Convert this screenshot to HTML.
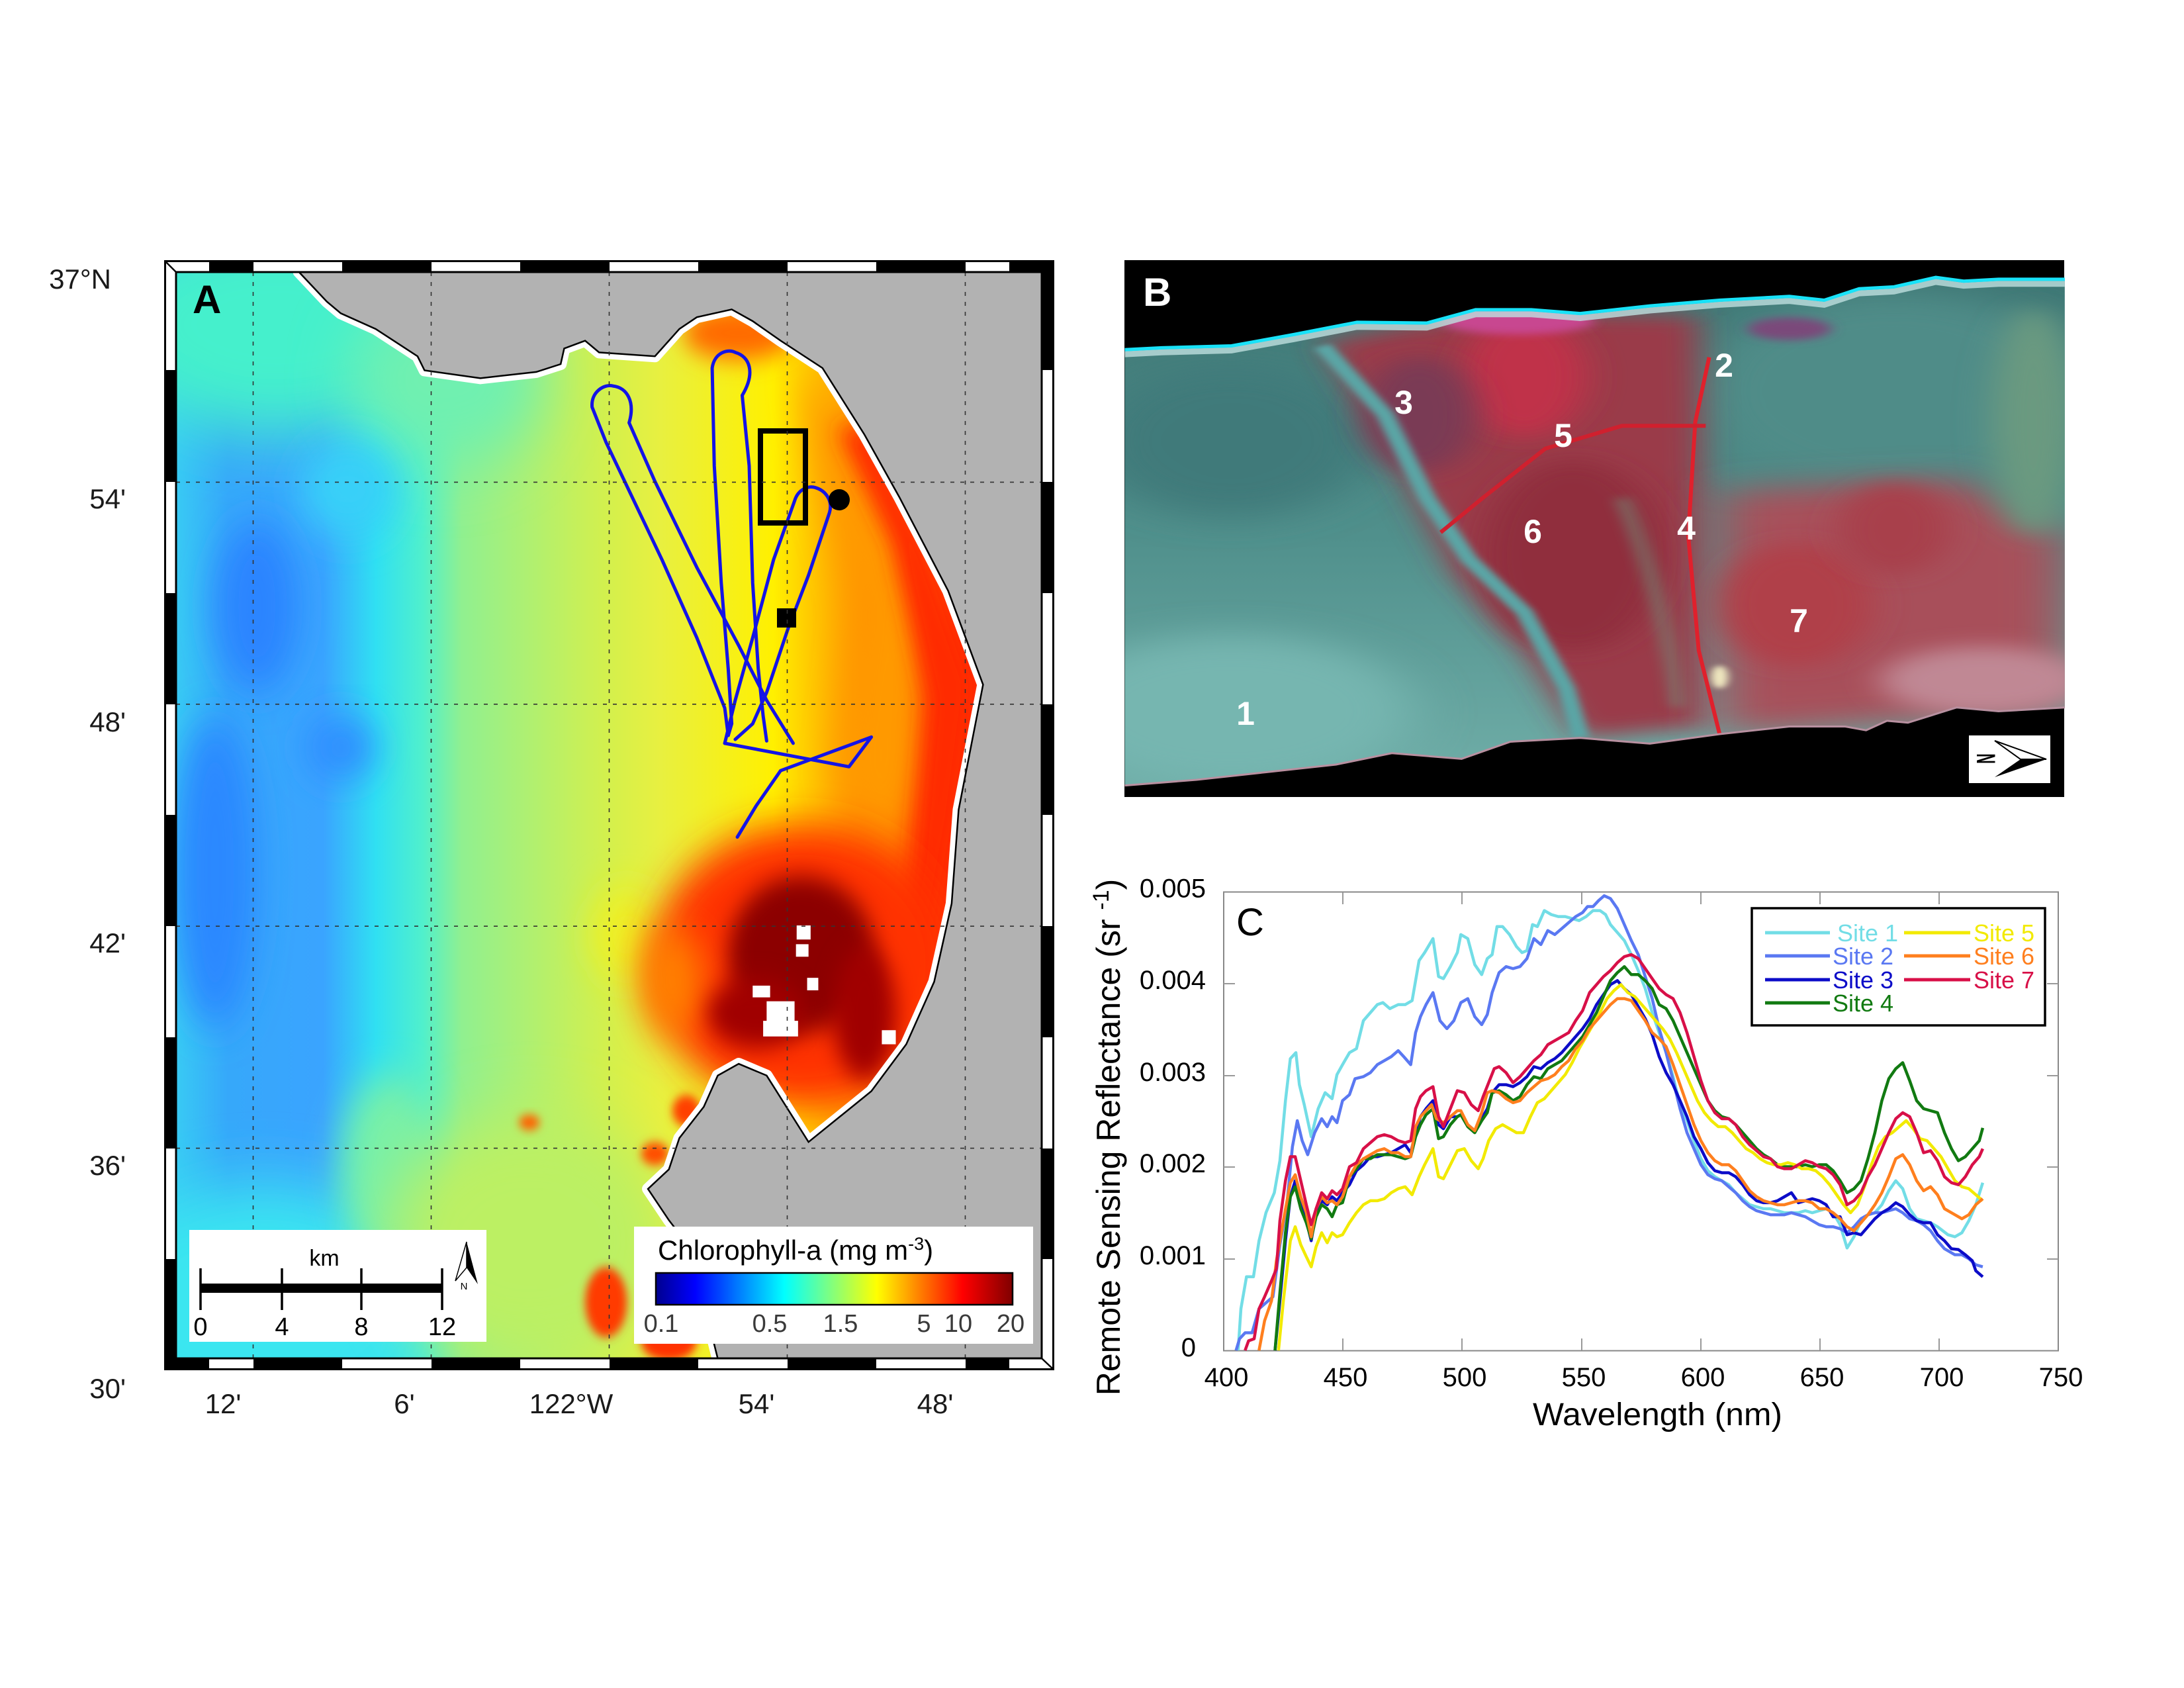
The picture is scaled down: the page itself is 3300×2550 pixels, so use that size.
<!DOCTYPE html>
<html><head><meta charset="utf-8"><style>
html,body{margin:0;padding:0;background:#fff;}
svg{display:block;}
text{font-family:"Liberation Sans",Arial,sans-serif;}
</style></head><body>
<svg width="3300" height="2550" viewBox="0 0 3300 2550" xmlns="http://www.w3.org/2000/svg">
<defs>
<filter id="b6" x="-50%" y="-50%" width="200%" height="200%"><feGaussianBlur stdDeviation="6"/></filter>
<filter id="b10" x="-50%" y="-50%" width="200%" height="200%"><feGaussianBlur stdDeviation="10"/></filter>
<filter id="b15" x="-50%" y="-50%" width="200%" height="200%"><feGaussianBlur stdDeviation="15"/></filter>
<filter id="b25" x="-50%" y="-50%" width="200%" height="200%"><feGaussianBlur stdDeviation="25"/></filter>
<filter id="b40" x="-50%" y="-50%" width="200%" height="200%"><feGaussianBlur stdDeviation="40"/></filter>
<linearGradient id="mapg" gradientUnits="userSpaceOnUse" x1="254" y1="0" x2="1494" y2="0">
<stop offset="0" stop-color="#38caf4"/>
<stop offset="0.06" stop-color="#36a8fa"/>
<stop offset="0.17" stop-color="#3aa4ff"/>
<stop offset="0.231" stop-color="#30e0f2"/>
<stop offset="0.285" stop-color="#50f0cc"/>
<stop offset="0.33" stop-color="#90f090"/>
<stop offset="0.45" stop-color="#c0f060"/>
<stop offset="0.5" stop-color="#d4f04c"/>
<stop offset="0.56" stop-color="#e8f040"/>
<stop offset="0.69" stop-color="#fff000"/>
<stop offset="0.76" stop-color="#ffb000"/>
<stop offset="0.83" stop-color="#ff7000"/>
<stop offset="0.89" stop-color="#ff3000"/>
<stop offset="1" stop-color="#ff2000"/>
</linearGradient>
<linearGradient id="jet" x1="0" y1="0" x2="1" y2="0">
<stop offset="0" stop-color="#00008f"/>
<stop offset="0.11" stop-color="#0000ff"/>
<stop offset="0.36" stop-color="#00ffff"/>
<stop offset="0.62" stop-color="#ffff00"/>
<stop offset="0.86" stop-color="#ff0000"/>
<stop offset="1" stop-color="#800000"/>
</linearGradient>
<linearGradient id="bvert" x1="0" y1="0" x2="0" y2="1">
<stop offset="0" stop-color="#3e7674"/>
<stop offset="0.5" stop-color="#50908c"/>
<stop offset="1" stop-color="#72b0aa"/>
</linearGradient>
<clipPath id="mapclip"><rect x="254" y="52" width="1240" height="1390"/></clipPath>
<clipPath id="bclip"><path d="M47,310 L100,305 L200,300 L290,270 L380,238 L480,240 L550,205 L630,205 L700,215 L800,195 L900,180 L1000,170 L1050,180 L1100,150 L1150,145 L1210,120 L1250,130 L1300,125 L1395,125 L1395,1250 L1300,1260 L1240,1250 L1170,1290 L1140,1285 L1110,1310 L1080,1300 L1000,1300 L900,1320 L800,1345 L700,1330 L600,1340 L530,1385 L430,1370 L350,1400 L250,1420 L150,1440 L47,1455 Z"/></clipPath>
</defs>

<!-- ================= PANEL A ================= -->
<g transform="translate(248,393) scale(1.0549,1.181) translate(-237,-37)">
 <g clip-path="url(#mapclip)">
  <rect x="250" y="40" width="1260" height="1420" fill="url(#mapg)"/>
  <ellipse cx="400" cy="120" rx="240" ry="140" fill="#44f0cc" filter="url(#b40)"/>
  <ellipse cx="640" cy="190" rx="140" ry="110" fill="#70f0b0" filter="url(#b40)"/>
  <ellipse cx="500" cy="330" rx="70" ry="60" fill="#38d0f8" filter="url(#b25)"/>
  <ellipse cx="380" cy="1380" rx="240" ry="160" fill="#3ae6f0" filter="url(#b40)"/>
  <ellipse cx="370" cy="480" rx="60" ry="110" fill="#2c84ff" filter="url(#b25)"/>
  <ellipse cx="310" cy="820" rx="60" ry="200" fill="#2c88ff" filter="url(#b25)"/>
  <ellipse cx="490" cy="660" rx="50" ry="40" fill="#2e8cff" filter="url(#b25)"/>
  <ellipse cx="560" cy="1200" rx="70" ry="120" fill="#78f0a8" filter="url(#b25)"/>
  <ellipse cx="760" cy="1290" rx="200" ry="160" fill="#bcf064" filter="url(#b40)"/>
  <ellipse cx="900" cy="900" rx="50" ry="60" fill="#f0f020" filter="url(#b25)"/>
  <path d="M1150,170 L1260,300 L1330,480 L1320,700 L1270,820 L1200,700 L1230,480 L1170,300 Z" fill="#ff9a00" filter="url(#b25)"/>
  <path d="M1200,250 L1250,250 L1330,400 L1400,580 L1375,750 L1345,900 L1300,1010 L1270,1000 L1310,800 L1330,600 L1280,400 Z" fill="#ff2a00" filter="url(#b15)"/>
  <ellipse cx="1060" cy="130" rx="80" ry="35" fill="#ff6a00" filter="url(#b15)"/>
  <ellipse cx="1150" cy="940" rx="215" ry="180" fill="#ff3000" filter="url(#b25)"/>
  <ellipse cx="965" cy="960" rx="45" ry="70" fill="#ff8000" filter="url(#b25)"/>
  <ellipse cx="1150" cy="925" rx="105" ry="100" fill="#8c0000" filter="url(#b15)"/>
  <ellipse cx="1240" cy="1000" rx="45" ry="85" fill="#a00000" filter="url(#b15)"/>
  <ellipse cx="1085" cy="1000" rx="70" ry="45" fill="#a00000" filter="url(#b15)"/>
  <ellipse cx="870" cy="1370" rx="30" ry="45" fill="#ff3a00" filter="url(#b6)"/>
  <ellipse cx="960" cy="1420" rx="40" ry="25" fill="#ff3000" filter="url(#b6)"/>
  <ellipse cx="985" cy="1125" rx="20" ry="20" fill="#ff4000" filter="url(#b6)"/>
  <ellipse cx="940" cy="1180" rx="20" ry="15" fill="#ff5000" filter="url(#b6)"/>
  <ellipse cx="760" cy="1140" rx="15" ry="10" fill="#ff6000" filter="url(#b6)"/>
  <g fill="#fff">
   <rect x="1143" y="888" width="20" height="18"/>
   <rect x="1142" y="912" width="18" height="16"/>
   <rect x="1158" y="955" width="16" height="16"/>
   <rect x="1080" y="965" width="25" height="15"/>
   <rect x="1100" y="985" width="40" height="30"/>
   <rect x="1095" y="1010" width="50" height="20"/>
   <rect x="1265" y="1022" width="20" height="18"/>
  </g>
  <!-- land -->
  <path d="M430,52 L470,90 L490,105 L540,125 L600,160 L610,178 L690,188 L770,180 L805,170 L810,150 L840,140 L860,155 L940,160 L975,125 L1000,110 L1050,100 L1080,115 L1120,140 L1180,175 L1240,260 L1290,340 L1360,460 L1410,580 L1375,740 L1365,860 L1340,960 L1300,1040 L1250,1100 L1160,1165 L1100,1080 L1060,1065 L1030,1080 L1010,1120 L975,1160 L960,1200 L930,1225 L960,1265 L990,1300 L1030,1442 L1520,1460 L1520,30 L430,30 Z" fill="#fff" stroke="#fff" stroke-width="18" stroke-linejoin="round" vector-effect="non-scaling-stroke"/>
  <path d="M430,52 L470,90 L490,105 L540,125 L600,160 L610,178 L690,188 L770,180 L805,170 L810,150 L840,140 L860,155 L940,160 L975,125 L1000,110 L1050,100 L1080,115 L1120,140 L1180,175 L1240,260 L1290,340 L1360,460 L1410,580 L1375,740 L1365,860 L1340,960 L1300,1040 L1250,1100 L1160,1165 L1100,1080 L1060,1065 L1030,1080 L1010,1120 L975,1160 L960,1200 L930,1225 L960,1265 L990,1300 L1030,1442 L1520,1460 L1520,30 L430,30 Z" fill="#b2b2b2"/>
  <path d="M430,52 L470,90 L490,105 L540,125 L600,160 L610,178 L690,188 L770,180 L805,170 L810,150 L840,140 L860,155 L940,160 L975,125 L1000,110 L1050,100 L1080,115 L1120,140 L1180,175 L1240,260 L1290,340 L1360,460 L1410,580 L1375,740 L1365,860 L1340,960 L1300,1040 L1250,1100 L1160,1165 L1100,1080 L1060,1065 L1030,1080 L1010,1120 L975,1160 L960,1200 L930,1225 L960,1265 L990,1300 L1030,1442" fill="none" stroke="#000" stroke-width="2.5" vector-effect="non-scaling-stroke"/>
  <!-- flight track -->
  <g fill="none" stroke="#1414e6" stroke-width="5" stroke-linejoin="round" stroke-linecap="round">
   <path vector-effect="non-scaling-stroke" d="M1045,645 L1040,610 L1000,520 L950,420 L870,270 L850,225 C848,205 868,195 880,198 C900,200 912,218 903,245 L940,320 L1000,430 L1060,530 L1100,600 L1138,655"/>
   <path vector-effect="non-scaling-stroke" d="M1045,645 L1050,630 L1045,560 L1035,450 L1025,300 L1022,175 C1025,155 1045,150 1055,155 C1075,160 1085,180 1065,210 L1075,300 L1080,450 L1088,560 L1095,620 L1100,652"/>
   <path vector-effect="non-scaling-stroke" d="M1040,655 L1055,600 L1080,520 L1110,420 L1140,345 C1145,330 1160,325 1170,328 C1185,332 1195,345 1190,360 L1160,440 L1130,510 L1100,590 L1080,630 L1055,650"/>
   <path vector-effect="non-scaling-stroke" d="M1040,655 L1218,685 L1250,647 L1120,690 L1085,735 L1058,775"/>
  </g>
 </g>
</g>
<!-- markers -->
<rect x="1149" y="651" width="68" height="139" fill="none" stroke="#000" stroke-width="8"/>
<circle cx="1268" cy="755" r="16" fill="#000"/>
<rect x="1174" y="919" width="29" height="29" fill="#000"/>
<!-- grid -->
<g stroke="#333" stroke-width="1.6" stroke-dasharray="6,9">
 <line x1="382.5" y1="411" x2="382.5" y2="2052"/>
 <line x1="651.5" y1="411" x2="651.5" y2="2052"/>
 <line x1="920.5" y1="411" x2="920.5" y2="2052"/>
 <line x1="1189.5" y1="411" x2="1189.5" y2="2052"/>
 <line x1="1458.5" y1="411" x2="1458.5" y2="2052"/>
 <line x1="266" y1="728.4" x2="1574" y2="728.4"/>
 <line x1="266" y1="1063.8" x2="1574" y2="1063.8"/>
 <line x1="266" y1="1399.2" x2="1574" y2="1399.2"/>
 <line x1="266" y1="1734.6" x2="1574" y2="1734.6"/>
</g>
<!-- scale box -->
<rect x="286" y="1858" width="449" height="169" fill="#fff"/>
<text x="490" y="1912" font-size="34" text-anchor="middle" fill="#000">km</text>
<rect x="303" y="1939" width="365" height="14" fill="#000"/>
<g stroke="#000" stroke-width="3.5">
 <line x1="303" y1="1916" x2="303" y2="1979"/>
 <line x1="426" y1="1916" x2="426" y2="1979"/>
 <line x1="546" y1="1916" x2="546" y2="1979"/>
 <line x1="668" y1="1916" x2="668" y2="1979"/>
</g>
<g font-size="38" text-anchor="middle" fill="#000">
 <text x="303" y="2017">0</text><text x="426" y="2017">4</text><text x="546" y="2017">8</text><text x="668" y="2017">12</text>
</g>
<polygon points="705,1876 688,1935 705,1915" fill="#fff" stroke="#000" stroke-width="1.5"/>
<polygon points="705,1876 705,1915 722,1940" fill="#000"/>
<text x="701" y="1948" font-size="15" text-anchor="middle" fill="#000">N</text>
<!-- colorbar box -->
<rect x="958" y="1853" width="603" height="177" fill="#fff"/>
<text x="994" y="1903" font-size="42" fill="#000">Chlorophyll-a (mg m<tspan font-size="27" dy="-15">-3</tspan><tspan dy="15">)</tspan></text>
<rect x="991" y="1923" width="539" height="48" fill="url(#jet)" stroke="#000" stroke-width="2.5"/>
<g font-size="38" text-anchor="middle" fill="#3a3a3a">
 <text x="999" y="2012">0.1</text><text x="1163" y="2012">0.5</text><text x="1270" y="2012">1.5</text>
 <text x="1396" y="2012">5</text><text x="1448" y="2012">10</text><text x="1527" y="2012">20</text>
</g>
<!-- frame -->
<rect x="248" y="393" width="1345" height="18" fill="#fff"/>
<rect x="248" y="2052" width="1345" height="18" fill="#fff"/>
<rect x="248" y="393" width="18" height="1677" fill="#fff"/>
<rect x="1575" y="393" width="18" height="1677" fill="#fff"/>
<g fill="#000">
 <rect x="316" y="393" width="67" height="18"/><rect x="517" y="393" width="135" height="18"/><rect x="786" y="393" width="135" height="18"/><rect x="1055" y="393" width="135" height="18"/><rect x="1324" y="393" width="135" height="18"/><rect x="1525" y="393" width="68" height="18"/>
 <rect x="248" y="2052" width="68" height="18"/><rect x="383" y="2052" width="134" height="18"/><rect x="652" y="2052" width="134" height="18"/><rect x="921" y="2052" width="134" height="18"/><rect x="1190" y="2052" width="134" height="18"/><rect x="1459" y="2052" width="66" height="18"/>
 <rect x="248" y="559" width="18" height="169"/><rect x="248" y="896" width="18" height="168"/><rect x="248" y="1231" width="18" height="168"/><rect x="248" y="1567" width="18" height="168"/><rect x="248" y="1902" width="18" height="168"/>
 <rect x="1575" y="393" width="18" height="166"/><rect x="1575" y="728" width="18" height="168"/><rect x="1575" y="1064" width="18" height="167"/><rect x="1575" y="1399" width="18" height="168"/><rect x="1575" y="1735" width="18" height="167"/>
</g>
<rect x="249.5" y="394.5" width="1342" height="1674" fill="none" stroke="#000" stroke-width="3"/>
<rect x="266" y="411" width="1308" height="1641" fill="none" stroke="#000" stroke-width="3"/>
<g stroke="#000" stroke-width="2.5">
 <line x1="249" y1="394" x2="266" y2="411"/><line x1="1592" y1="394" x2="1574" y2="411"/>
 <line x1="249" y1="2069" x2="266" y2="2052"/><line x1="1592" y1="2069" x2="1574" y2="2052"/>
</g>
<text x="291" y="473" font-size="60" font-weight="bold" fill="#000">A</text>
<!-- axis labels A -->
<g font-size="42" fill="#1a1a1a">
 <text x="168" y="436" text-anchor="end">37°N</text>
 <text x="190" y="768" text-anchor="end">54'</text>
 <text x="190" y="1105" text-anchor="end">48'</text>
 <text x="190" y="1439" text-anchor="end">42'</text>
 <text x="190" y="1775" text-anchor="end">36'</text>
 <text x="190" y="2112" text-anchor="end">30'</text>
 <text x="337" y="2135" text-anchor="middle">12'</text>
 <text x="611" y="2135" text-anchor="middle">6'</text>
 <text x="863" y="2135" text-anchor="middle">122°W</text>
 <text x="1143" y="2135" text-anchor="middle">54'</text>
 <text x="1413" y="2135" text-anchor="middle">48'</text>
</g>

<!-- ================= PANEL B ================= -->
<rect x="1699" y="393" width="1420" height="811" fill="#000"/>
<g transform="translate(1650,350) scale(1.0537,0.575)">
 <g clip-path="url(#bclip)">
  <rect x="40" y="100" width="1370" height="1400" fill="url(#bvert)"/>
  <ellipse cx="200" cy="550" rx="200" ry="200" fill="#3f7a7a" filter="url(#b40)"/>
  <ellipse cx="200" cy="1260" rx="260" ry="200" fill="#76b6b0" filter="url(#b40)"/>
  <ellipse cx="1150" cy="420" rx="280" ry="260" fill="#4f8c88" filter="url(#b40)"/>
  <path d="M330,290 L560,210 L870,220 L880,1300 L700,1330 L620,1100 L520,900 L440,620 Z" fill="#9a3a48" filter="url(#b25)"/>
  <ellipse cx="620" cy="380" rx="90" ry="160" fill="#c03048" filter="url(#b25)"/>
  <ellipse cx="610" cy="235" rx="110" ry="35" fill="#c84690" filter="url(#b10)"/>
  <ellipse cx="690" cy="850" rx="130" ry="250" fill="#902e3c" filter="url(#b25)"/>
  <ellipse cx="470" cy="480" rx="80" ry="150" fill="#7a3a55" filter="url(#b25)"/>
  <path d="M330,300 L420,480 L480,700 L540,860 L620,1000 L680,1200 L700,1330" fill="none" stroke="#5aa6a6" stroke-width="26" filter="url(#b6)"/>
  <path d="M760,700 Q820,950 840,1250" fill="none" stroke="#6a9a80" stroke-width="24" opacity="0.45" filter="url(#b10)"/>
  <path d="M900,680 L1250,650 L1395,800 L1395,1260 L900,1320 Z" fill="#a8505a" filter="url(#b40)"/>
  <ellipse cx="1010" cy="980" rx="110" ry="160" fill="#b0404a" filter="url(#b25)"/>
  <ellipse cx="1150" cy="780" rx="80" ry="120" fill="#a8404c" filter="url(#b25)"/>
  <ellipse cx="1280" cy="1180" rx="150" ry="90" fill="#c08894" filter="url(#b25)"/>
  <ellipse cx="1350" cy="500" rx="60" ry="300" fill="#6a9a80" filter="url(#b25)"/>
  <ellipse cx="1000" cy="255" rx="60" ry="30" fill="#7a4a7a" filter="url(#b10)"/>
  <ellipse cx="900" cy="1170" rx="12" ry="30" fill="#f0e8c0" filter="url(#b6)"/>
  <path d="M885,330 L865,500 L855,800 L870,1100 L900,1320" fill="none" stroke="#e0202c" stroke-width="6" vector-effect="non-scaling-stroke"/>
  <path d="M500,790 L560,700 L650,570 L760,510 L880,510" fill="none" stroke="#d0202e" stroke-width="6" vector-effect="non-scaling-stroke"/>
  <path d="M47,322 L100,317 L200,312 L290,282 L380,250 L480,252 L550,217 L630,217 L700,227 L800,207 L900,192 L1000,182 L1050,192 L1100,162 L1150,157 L1210,132 L1250,142 L1300,137 L1395,137" fill="none" stroke="#c0e0e0" stroke-width="9" opacity="0.8" vector-effect="non-scaling-stroke"/>
 </g>
 <path d="M47,310 L100,305 L200,300 L290,270 L380,238 L480,240 L550,205 L630,205 L700,215 L800,195 L900,180 L1000,170 L1050,180 L1100,150 L1150,145 L1210,120 L1250,130 L1300,125 L1395,125" fill="none" stroke="#18e2f8" stroke-width="5" vector-effect="non-scaling-stroke"/>
 <path d="M1395,1250 L1300,1260 L1240,1250 L1170,1290 L1140,1285 L1110,1310 L1080,1300 L1000,1300 L900,1320 L800,1345 L700,1330 L600,1340 L530,1385 L430,1370 L350,1400 L250,1420 L150,1440 L47,1455" fill="none" stroke="#b890a0" stroke-width="3" vector-effect="non-scaling-stroke"/>
</g>
<text x="1727" y="462" font-size="60" font-weight="bold" fill="#fff">B</text>
<g font-size="50" font-weight="bold" fill="#fff" text-anchor="middle">
 <text x="1882" y="1095">1</text><text x="2605" y="569">2</text><text x="2121" y="625">3</text>
 <text x="2548" y="815">4</text><text x="2362" y="675">5</text><text x="2316" y="820">6</text><text x="2718" y="955">7</text>
</g>
<rect x="2975" y="1111" width="123" height="72" fill="#fff"/>
<polygon points="3014,1119 3092,1147 3053,1147" fill="#fff" stroke="#000" stroke-width="2"/>
<polygon points="3053,1147 3092,1147 3014,1174" fill="#000"/>
<text transform="translate(2987,1146) rotate(90) scale(0.9,1.65)" x="0" y="0" font-size="24" font-weight="bold" text-anchor="middle" fill="#000">N</text>

<!-- ================= PANEL C ================= -->
<rect x="1849" y="1347.5" width="1261" height="693" fill="none" stroke="#888" stroke-width="2"/>
<g stroke="#999" stroke-width="2">
 <line x1="2029" y1="2040" x2="2029" y2="2022"/><line x1="2209" y1="2040" x2="2209" y2="2022"/><line x1="2390" y1="2040" x2="2390" y2="2022"/><line x1="2570" y1="2040" x2="2570" y2="2022"/><line x1="2750" y1="2040" x2="2750" y2="2022"/><line x1="2930" y1="2040" x2="2930" y2="2022"/>
 <line x1="2029" y1="1348" x2="2029" y2="1366"/><line x1="2209" y1="1348" x2="2209" y2="1366"/><line x1="2390" y1="1348" x2="2390" y2="1366"/><line x1="2570" y1="1348" x2="2570" y2="1366"/><line x1="2750" y1="1348" x2="2750" y2="1366"/><line x1="2930" y1="1348" x2="2930" y2="1366"/>
 <line x1="1849" y1="1902" x2="1866" y2="1902"/><line x1="1849" y1="1763" x2="1866" y2="1763"/><line x1="1849" y1="1625" x2="1866" y2="1625"/><line x1="1849" y1="1486" x2="1866" y2="1486"/>
 <line x1="3110" y1="1902" x2="3093" y2="1902"/><line x1="3110" y1="1763" x2="3093" y2="1763"/><line x1="3110" y1="1625" x2="3093" y2="1625"/><line x1="3110" y1="1486" x2="3093" y2="1486"/>
</g>
<g font-size="40" fill="#000">
 <text x="1822" y="1355.5" text-anchor="end">0.005</text>
 <text x="1822" y="1494" text-anchor="end">0.004</text>
 <text x="1822" y="1633" text-anchor="end">0.003</text>
 <text x="1822" y="1771" text-anchor="end">0.002</text>
 <text x="1822" y="1910" text-anchor="end">0.001</text>
 <text x="1807" y="2049" text-anchor="end">0</text>
 <g text-anchor="middle">
  <text x="1853" y="2094">400</text><text x="2033" y="2094">450</text><text x="2213" y="2094">500</text><text x="2393" y="2094">550</text>
  <text x="2573" y="2094">600</text><text x="2753" y="2094">650</text><text x="2934" y="2094">700</text><text x="3114" y="2094">750</text>
 </g>
</g>
<text x="1868" y="1413" font-size="58" fill="#000">C</text>
<text x="2316" y="2153" font-size="48" textLength="377" lengthAdjust="spacingAndGlyphs" fill="#000">Wavelength (nm)</text>
<text transform="translate(1692,1718) rotate(-90)" x="0" y="0" font-size="50" text-anchor="middle" fill="#000">Remote Sensing Reflectance (sr <tspan font-size="34" dy="-17">-1</tspan><tspan dy="17">)</tspan></text>

<g transform="translate(1650,1300) scale(1.0515,0.6046)" fill="none" stroke-width="4.5" stroke-linejoin="round">
<polyline vector-effect="non-scaling-stroke" stroke="#72dde6" points="210,1224 214,1120 222,1040 232,1040 240,950 250,880 262,830 270,750 278,600 285,495 293,480 298,560 305,610 315,690 325,620 335,580 345,595 352,535 360,510 370,480 380,470 390,400 400,380 410,360 418,355 428,370 440,360 450,360 460,350 470,250 478,230 490,195 498,290 505,295 515,265 525,230 530,185 540,195 550,260 560,285 568,245 575,235 582,165 590,165 600,185 610,215 618,230 625,225 633,160 640,165 650,125 660,135 670,140 680,140 690,145 700,150 710,140 720,125 730,125 738,135 745,160 755,180 765,200 775,235 785,275 795,320 805,380 815,430 825,480 835,540 845,610 855,650 865,700 875,745 885,775 895,790 905,800 915,810 925,830 935,845 945,860 955,865 965,870 975,870 985,875 995,880 1005,880 1015,880 1025,875 1035,880 1045,875 1055,870 1065,880 1075,910 1085,968 1095,940 1105,900 1115,885 1125,880 1135,860 1145,825 1155,800 1165,820 1175,870 1185,895 1195,900 1205,905 1215,915 1230,935 1240,940 1250,930 1260,900 1270,860 1280,805"/>
<polyline vector-effect="non-scaling-stroke" stroke="#5a78f2" points="207,1224 212,1195 220,1180 230,1180 240,1120 250,1105 260,1090 270,960 280,860 288,715 295,650 302,700 310,735 320,680 330,645 338,665 345,640 352,655 360,600 370,585 378,545 390,540 400,530 410,510 420,500 430,490 440,475 448,490 458,510 465,430 472,390 480,360 490,330 500,400 510,420 520,400 530,355 540,345 550,390 560,410 568,385 575,330 585,280 595,265 605,270 615,265 625,245 635,195 645,210 655,175 665,185 675,170 685,155 695,140 705,130 712,115 720,115 728,100 736,88 745,95 755,120 765,160 775,200 785,235 795,290 805,345 815,420 825,480 835,550 845,620 855,680 865,720 875,760 885,785 895,795 905,800 915,815 925,830 935,850 945,865 955,875 965,880 975,885 985,885 995,885 1005,880 1015,885 1025,890 1035,900 1045,910 1055,915 1065,915 1075,920 1085,930 1095,915 1105,895 1115,885 1125,880 1135,880 1145,875 1155,870 1165,880 1175,895 1185,900 1195,910 1205,925 1215,950 1225,970 1240,985 1250,985 1260,995 1270,1010 1280,1015"/>
<polyline vector-effect="non-scaling-stroke" stroke="#0c0cc8" points="263,1224 270,1100 278,950 285,840 292,800 300,850 308,900 315,950 322,880 330,850 338,860 345,840 352,850 360,830 370,810 380,775 390,760 400,740 410,740 420,735 430,730 440,720 450,710 458,730 465,680 472,640 480,620 490,600 498,660 505,670 515,640 525,640 530,635 540,660 550,675 560,645 568,620 575,580 585,560 595,560 605,565 615,555 625,540 635,515 645,520 655,505 665,495 675,480 685,460 695,440 705,420 715,395 725,360 735,335 745,310 755,300 765,320 775,335 785,365 795,395 805,435 815,490 825,530 835,560 845,600 855,640 865,690 875,720 885,755 895,775 905,780 915,780 925,790 935,810 945,835 955,850 965,855 975,855 985,850 995,840 1005,830 1015,855 1025,850 1035,845 1045,850 1055,860 1065,890 1075,890 1085,935 1095,930 1105,935 1115,915 1125,895 1135,880 1145,870 1155,855 1165,865 1175,885 1185,900 1195,905 1205,905 1215,935 1225,950 1235,970 1245,972 1255,985 1265,1000 1270,1025 1280,1040"/>
<polyline vector-effect="non-scaling-stroke" stroke="#117a11" points="263,1224 270,1080 278,930 285,840 292,815 300,870 308,905 315,945 322,890 330,860 338,870 345,890 352,860 360,855 370,790 380,770 390,745 400,745 410,735 420,735 430,735 440,740 450,745 458,740 465,690 472,660 480,635 490,620 498,695 505,690 515,660 525,640 530,635 540,665 550,680 560,650 568,630 575,580 585,575 595,585 605,600 615,590 625,560 635,540 645,545 655,520 665,510 675,500 685,480 695,460 705,440 715,410 725,380 735,340 745,300 755,280 765,265 775,285 785,285 795,300 805,320 815,360 825,370 835,400 845,440 855,480 865,520 875,560 885,600 895,625 905,640 915,645 925,660 935,680 945,700 955,720 965,735 975,745 985,760 995,765 1005,765 1015,765 1025,760 1035,765 1045,760 1055,760 1065,775 1075,800 1085,830 1095,820 1105,800 1115,745 1125,680 1135,600 1145,545 1155,520 1165,505 1175,550 1185,600 1195,620 1205,625 1215,630 1225,680 1235,720 1245,750 1255,740 1265,720 1275,700 1280,668"/>
<polyline vector-effect="non-scaling-stroke" stroke="#f2ea00" points="268,1224 275,1100 285,950 292,915 300,960 308,990 315,1015 322,965 330,930 338,955 345,930 352,940 360,935 370,905 380,880 390,860 400,850 410,850 420,845 430,830 440,820 450,815 460,835 470,790 478,760 490,720 498,790 505,795 515,760 525,725 535,720 545,750 555,770 562,745 570,700 580,670 590,660 600,670 610,680 620,680 630,640 640,605 650,595 660,575 670,555 680,535 690,505 700,470 710,440 720,410 730,380 740,345 750,325 760,310 770,330 780,340 790,360 800,380 810,400 820,420 830,445 840,480 850,520 860,560 870,600 880,630 890,650 900,665 910,665 920,680 930,700 940,720 950,730 960,745 970,755 980,760 990,760 1000,755 1010,760 1020,770 1030,770 1040,775 1050,790 1060,810 1070,835 1080,860 1090,880 1100,860 1110,815 1120,760 1130,715 1140,690 1150,680 1160,665 1170,650 1180,670 1190,695 1200,700 1210,720 1220,740 1230,770 1240,800 1250,815 1260,820 1270,835 1280,850"/>
<polyline vector-effect="non-scaling-stroke" stroke="#ff7f1e" points="240,1224 248,1150 258,1100 265,1000 275,900 285,805 292,785 300,840 308,880 315,940 322,870 330,840 338,855 345,850 352,860 360,840 370,790 380,760 390,745 400,735 410,725 420,720 430,730 440,730 450,740 458,740 465,665 472,640 480,625 488,610 495,645 505,655 515,640 525,625 530,625 540,660 550,675 560,630 568,580 575,575 585,580 595,595 605,605 615,600 625,580 635,565 645,550 655,545 665,535 675,515 685,500 695,470 705,450 715,420 725,400 735,380 745,360 755,345 765,345 775,350 785,375 795,400 805,430 815,445 825,465 835,510 845,560 855,610 865,660 875,700 885,730 895,750 905,760 915,760 925,775 935,800 945,825 955,840 965,850 975,855 985,860 995,860 1005,855 1015,850 1025,850 1035,855 1045,870 1055,870 1065,880 1075,895 1085,915 1095,925 1105,905 1115,885 1125,860 1135,830 1145,790 1155,745 1165,735 1175,760 1185,800 1195,825 1205,815 1215,835 1225,870 1240,885 1250,895 1260,885 1270,860 1280,845"/>
<polyline vector-effect="non-scaling-stroke" stroke="#d81048" points="220,1224 225,1200 233,1195 240,1120 248,1090 258,1050 265,1020 270,900 278,800 285,740 292,740 300,800 308,860 315,910 322,870 330,830 338,845 345,825 352,835 360,820 370,765 380,755 390,720 400,705 410,690 420,685 430,690 440,700 450,705 458,700 465,620 472,590 480,575 490,565 498,640 505,665 515,620 525,575 535,580 545,610 555,625 562,590 570,555 578,520 585,515 595,530 605,555 615,540 625,520 635,500 645,485 655,460 665,450 675,440 685,430 695,400 705,375 715,330 725,310 735,290 745,275 755,255 765,240 775,235 785,245 795,270 805,295 815,320 825,335 835,345 845,380 855,430 865,490 875,550 885,600 895,630 905,645 915,645 925,660 935,690 945,710 955,725 965,740 975,745 985,765 995,770 1005,770 1015,760 1025,750 1035,755 1045,765 1055,770 1065,785 1075,810 1085,860 1095,850 1105,830 1115,790 1125,760 1135,720 1145,680 1155,645 1165,630 1175,640 1185,680 1195,730 1205,725 1215,750 1225,790 1235,805 1245,810 1255,790 1265,760 1275,740 1280,720"/>
</g>
<!-- legend -->
<rect x="2647" y="1372" width="443" height="177" fill="#fff" stroke="#000" stroke-width="3.5"/>
<g stroke-width="5">
 <line x1="2667" y1="1409" x2="2765" y2="1409" stroke="#72dde6"/>
 <line x1="2667" y1="1444" x2="2765" y2="1444" stroke="#5a78f2"/>
 <line x1="2667" y1="1480" x2="2765" y2="1480" stroke="#0c0cc8"/>
 <line x1="2667" y1="1515" x2="2765" y2="1515" stroke="#117a11"/>
 <line x1="2877" y1="1409" x2="2977" y2="1409" stroke="#f2ea00"/>
 <line x1="2877" y1="1444" x2="2977" y2="1444" stroke="#ff7f1e"/>
 <line x1="2877" y1="1480" x2="2977" y2="1480" stroke="#d81048"/>
</g>
<g font-size="36">
 <text x="2776" y="1422" fill="#72dde6">Site 1</text>
 <text x="2769" y="1457" fill="#5a78f2">Site 2</text>
 <text x="2769" y="1493" fill="#0c0cc8">Site 3</text>
 <text x="2769" y="1528" fill="#117a11">Site 4</text>
 <text x="2982" y="1422" fill="#f2ea00">Site 5</text>
 <text x="2982" y="1457" fill="#ff7f1e">Site 6</text>
 <text x="2982" y="1493" fill="#d81048">Site 7</text>
</g>
</svg>
</body></html>
